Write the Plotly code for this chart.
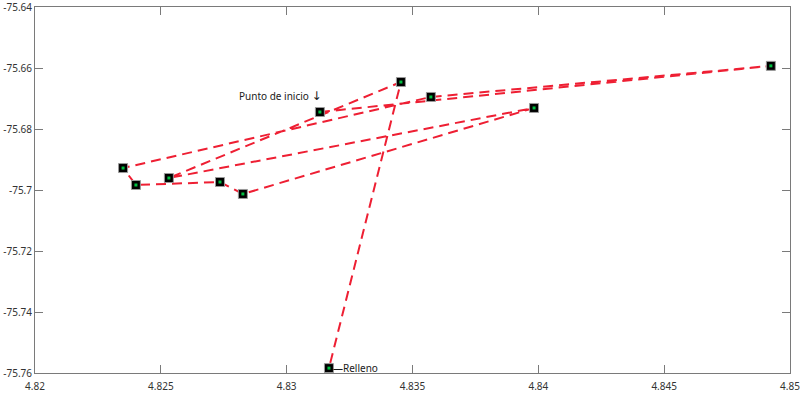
import plotly.graph_objects as go

# Trajectory points in travel order (start -> landfill)
lon = [4.83132, 4.84924, 4.83573, 4.82350, 4.82401, 4.82735, 4.82826, 4.83983, 4.82532, 4.83454, 4.83168]
lat = [-75.67443, -75.6593, -75.6695, -75.6928, -75.69836, -75.69738, -75.7013, -75.6731, -75.69607, -75.6646, -75.7584]

x_ticks = [4.82, 4.825, 4.83, 4.835, 4.84, 4.845, 4.85]
x_labels = ["4.82", "4.825", "4.83", "4.835", "4.84", "4.845", "4.85"]
y_ticks = [-75.64, -75.66, -75.68, -75.70, -75.72, -75.74, -75.76]
y_labels = ["-75.64", "-75.66", "-75.68", "-75.7", "-75.72", "-75.74", "-75.76"]

start_label = "Punto de inicio <span style='font-family:DejaVu Sans;font-size:12px'>\u2193</span>"
end_label = "\u2014Relleno"

FONT = "Noto Sans"
AXC = "#7a7a7a"

fig = go.Figure()
fig.add_trace(go.Scatter(
    x=lon, y=lat, mode="lines",
    line=dict(color="#ee1f33", width=2, dash="10px,6px"),
    hoverinfo="skip", showlegend=False,
))
fig.add_trace(go.Scatter(
    x=lon, y=lat, mode="markers",
    marker=dict(symbol="square", size=9, color="black", line=dict(color="#9a9a9a", width=1)),
    showlegend=False,
))
fig.add_trace(go.Scatter(
    x=lon, y=lat, mode="markers",
    marker=dict(symbol="square", size=3, color="#00c040", line=dict(width=0)),
    showlegend=False,
))

fig.add_annotation(x=lon[0], y=lat[0], text=start_label, showarrow=False,
                   xanchor="right", yanchor="middle", xshift=4, yshift=16,
                   font=dict(family=FONT, size=10, color="#1a1a1a"))
fig.add_annotation(x=lon[-1], y=lat[-1], text=end_label, showarrow=False,
                   xanchor="left", yanchor="middle", xshift=2, yshift=0,
                   font=dict(family=FONT, size=10, color="#1a1a1a"))

axis_common = dict(
    showline=True, linecolor=AXC, linewidth=1, mirror="ticks",
    ticks="inside", ticklen=8, tickcolor=AXC, tickwidth=1,
    showgrid=False, zeroline=False, automargin=False,
    ticklabeloverflow="allow",
    tickfont=dict(family=FONT, size=10, color="#333333"),
)
fig.update_xaxes(range=[4.82, 4.85], tickvals=x_ticks, ticktext=x_labels,
                 ticklabelstandoff=4, **axis_common)
fig.update_yaxes(range=[-75.76, -75.64], tickvals=y_ticks, ticktext=y_labels, **axis_common)

fig.update_layout(
    width=800, height=393,
    margin=dict(l=35, r=10, t=7, b=20),
    plot_bgcolor="white", paper_bgcolor="white",
    font=dict(family=FONT, size=10),
)

fig.write_html("out.html", config={"displayModeBar": False},
               post_script="document.body.style.margin='0';")
